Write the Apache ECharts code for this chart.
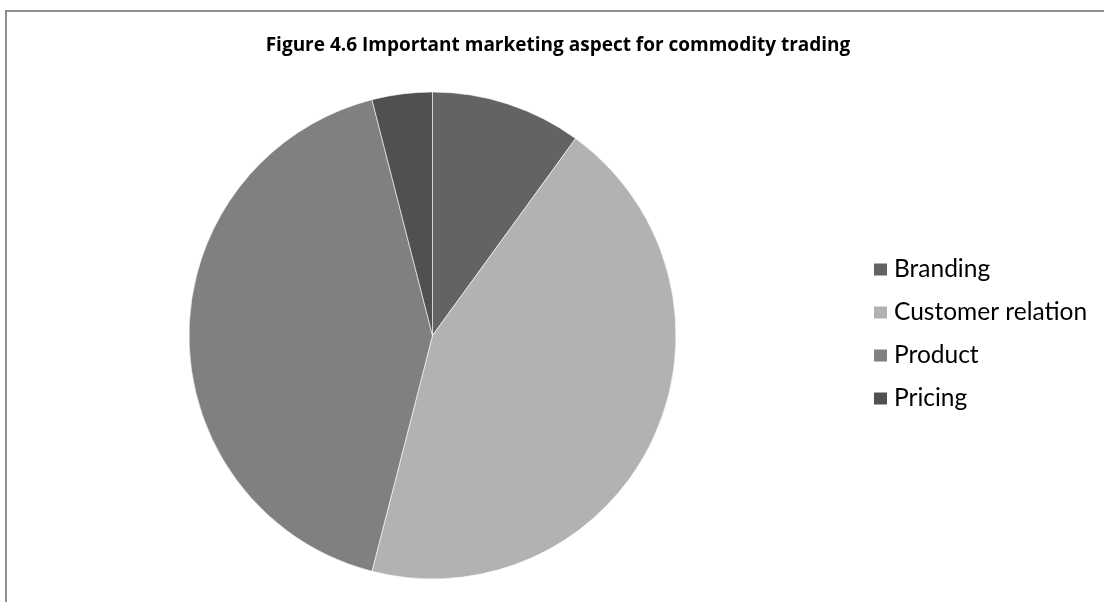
<!DOCTYPE html>
<html>
<head>
<meta charset="utf-8">
<script src="https://cdn.jsdelivr.net/npm/echarts@6/dist/echarts.min.js"></script>
<style>
  html, body { margin: 0; padding: 0; background: #fff; }
  #chart { width: 1104px; height: 602px; }
</style>
</head>
<body>
<div id="chart"></div>
<script>
// Share of respondents naming each aspect (%)
const categories = ['Branding', 'Customer relation', 'Product', 'Pricing'];
const shares = [10, 44, 42, 4];
const sliceColors = ['#636363', '#b2b2b2', '#808080', '#505050'];

const chart = echarts.init(document.getElementById('chart'));

chart.setOption({
  backgroundColor: '#ffffff',
  animation: false,
  title: {
    text: 'Figure 4.6 Important marketing aspect for commodity trading',
    left: 553, top: 31,
    textAlign: 'center',
    textStyle: { fontFamily: '"Open Sans", sans-serif', fontWeight: 'bold', fontSize: 19, color: '#000' }
  },
  legend: {
    orient: 'vertical',
    left: 867, top: 252,
    icon: 'rect',
    itemWidth: 15, itemHeight: 14,
    itemGap: 18,
    data: categories,
    textStyle: { fontFamily: 'Lato, "Open Sans", sans-serif', fontSize: 24.5, color: '#000', padding: [0, 0, 0, 1] }
  },
  graphic: [{
    type: 'rect',
    shape: { x: 6, y: 11, width: 1200, height: 800 },
    style: { fill: 'none', stroke: '#8f8f8f', lineWidth: 2 },
    silent: true
  }],
  series: [{
    type: 'pie',
    center: [432.5, 335.5],
    radius: 243.5,
    startAngle: 90,
    clockwise: true,
    label: { show: false },
    labelLine: { show: false },
    emphasis: { disabled: true },
    itemStyle: { borderColor: '#ffffff', borderWidth: 0.6 },
    data: categories.map((name, i) => ({
      name, value: shares[i], itemStyle: { color: sliceColors[i] }
    }))
  }]
});
</script>
</body>
</html>
